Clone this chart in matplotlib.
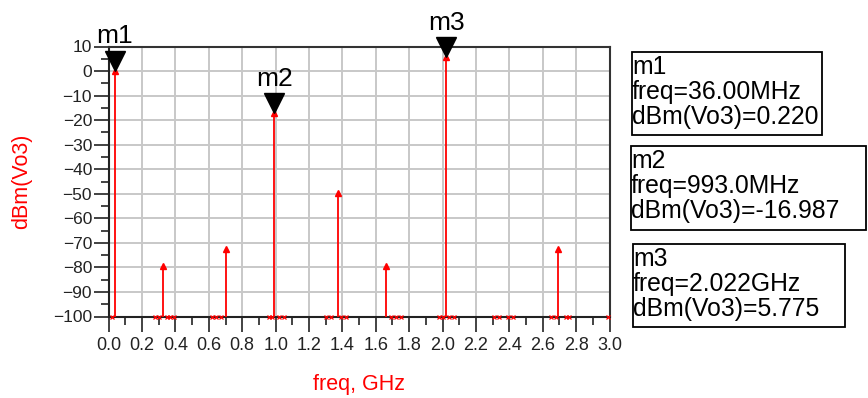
import matplotlib

matplotlib.use("Agg")

import matplotlib.pyplot as plt
from matplotlib.patches import Rectangle
from matplotlib.transforms import offset_copy
from matplotlib.ticker import MultipleLocator

plt.rcParams["font.family"] = ["Liberation Sans", "DejaVu Sans"]

W, H = 868, 398
DPI = 100

# spectrum tones (GHz, dBm)
TONE_FREQ = [0.036, 0.328, 0.704, 0.993, 1.374, 1.664, 2.022, 2.691]
TONE_LEVEL = [0.220, -79.5, -72.5, -16.987, -49.5, -79.5, 5.775, -72.5]

# points sitting on the -100 dBm floor
FLOOR_FREQ = [0.02, 0.28, 0.30, 0.35, 0.37, 0.39, 0.62, 0.64, 0.67,
              0.96, 0.98, 1.02, 1.05, 1.30, 1.33, 1.39, 1.42,
              1.69, 1.72, 1.75, 1.98, 2.00, 2.04, 2.07,
              2.31, 2.34, 2.39, 2.42, 2.65, 2.68, 2.74, 2.76, 2.99]
FLOOR_LEVEL = -100.0

MARKER_NAMES = ["m1", "m2", "m3"]
MARKER_FREQ = [0.036, 0.993, 2.022]
MARKER_LEVEL = [0.220, -16.987, 5.775]
MARKER_FREQ_TEXT = ["36.00MHz", "993.0MHz", "2.022GHz"]
MARKER_LEVEL_TEXT = ["0.220", "-16.987", "5.775"]

XTICKS = [0.0, 0.2, 0.4, 0.6, 0.8, 1.0, 1.2, 1.4, 1.6, 1.8, 2.0, 2.2, 2.4, 2.6, 2.8, 3.0]
YTICKS = [10, 0, -10, -20, -30, -40, -50, -60, -70, -80, -90, -100]

RED = "#ff0000"
GRID = "#c8c8c8"

# marker readout boxes in pixels: left, top, right, bottom
BOXES = [(632, 52, 822, 135), (631, 146, 866, 230), (633, 244, 845, 327)]


def fx(x):
    return x / W


def fy(y):
    return 1 - y / H


fig = plt.figure(figsize=(W / DPI, H / DPI), dpi=DPI)
ax = fig.add_axes([fx(108.7), fy(316.5), fx(609.5) - fx(108.7), fy(46.5) - fy(316.5)])

ax.set_xlim(0, 3.0)
ax.set_ylim(-100, 10)
ax.set_xticks(XTICKS)
ax.set_xticklabels([f"{v:.1f}" for v in XTICKS])
ax.set_yticks(YTICKS)
ax.xaxis.set_minor_locator(MultipleLocator(0.1))
ax.yaxis.set_minor_locator(MultipleLocator(5))
ax.grid(True, which="major", color=GRID, lw=1.4)
ax.set_axisbelow(True)

ax.tick_params(axis="both", which="major", direction="out", length=11, width=1.2,
               color="#222222", labelsize=12.5, labelcolor="#222222")
ax.tick_params(axis="both", which="minor", direction="out", length=6, width=1.2, color="#222222")
ax.tick_params(axis="x", which="major", pad=4, labelsize=13)
ax.tick_params(axis="y", which="major", pad=1)
for side in ["left", "bottom"]:
    ax.spines[side].set_color("#222222")
    ax.spines[side].set_linewidth(1.5)
for side in ["top", "right"]:
    ax.spines[side].set_color("#333333")
    ax.spines[side].set_linewidth(1.5)

ax.set_xlabel("freq, GHz", color=RED, fontsize=15.5, labelpad=14)
ax.set_ylabel("dBm(Vo3)", color=RED, fontsize=15.5, labelpad=15)

# stems
ax.vlines(TONE_FREQ, FLOOR_LEVEL, TONE_LEVEL, color=RED, lw=1.3, zorder=3)
ax.plot(TONE_FREQ, TONE_LEVEL, ls="none", marker="^", ms=4.5, color=RED, zorder=4)
ax.plot(FLOOR_FREQ, [FLOOR_LEVEL] * len(FLOOR_FREQ), ls="none", marker="x", ms=3.5,
        mew=0.9, color=RED, clip_on=False, zorder=4)

# marker triangles with tip on the data point
tri_trans = offset_copy(ax.transData, fig=fig, x=0, y=7.0, units="points")
lbl_trans = offset_copy(ax.transData, fig=fig, x=0, y=16.0, units="points")
for name, f, lvl in zip(MARKER_NAMES, MARKER_FREQ, MARKER_LEVEL):
    ax.plot([f], [lvl], ls="none", marker="v", ms=15, color="black",
            transform=tri_trans, clip_on=False, zorder=6)
    ax.text(f, lvl, name, transform=lbl_trans, ha="center", va="bottom",
            fontsize=19, color="black", clip_on=False, zorder=6)

# readout boxes
for (l, t, r, b), name, ftxt, ltxt in zip(BOXES, MARKER_NAMES, MARKER_FREQ_TEXT, MARKER_LEVEL_TEXT):
    fig.patches.append(Rectangle((fx(l), fy(b)), fx(r) - fx(l), fy(t) - fy(b),
                                 transform=fig.transFigure, fill=False,
                                 edgecolor="black", lw=1.3))
    lines = [name, f"freq={ftxt}", f"dBm(Vo3)={ltxt}"]
    for i, line in enumerate(lines):
        fig.text(fx(l), fy(t + 15 + 25 * i), line, ha="left", va="center",
                 fontsize=17.8, color="black")

fig.savefig("out.png", dpi=DPI, facecolor="white")
